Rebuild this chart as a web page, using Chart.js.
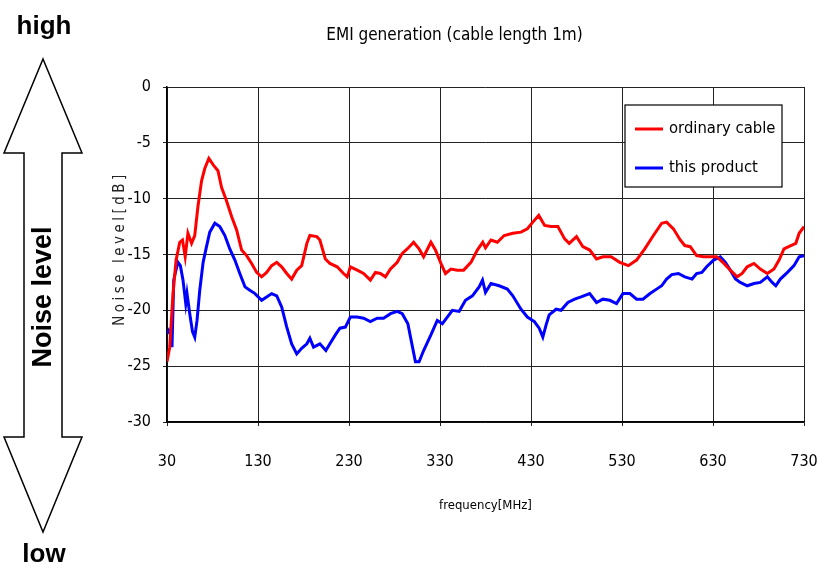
<!DOCTYPE html>
<html>
<head>
<meta charset="utf-8">
<script src="https://cdn.jsdelivr.net/npm/chart.js@4/dist/chart.umd.min.js"></script>
<style>
  html, body { margin: 0; padding: 0; background: #ffffff; }
  #wrap { width: 817px; height: 570px; }
</style>
</head>
<body>
<div id="wrap"><canvas id="c" width="817" height="570"></canvas></div>
<script>
// ---- data ----
const chartTitle = 'EMI generation (cable length 1m)';
const xTitle = 'frequency[MHz]';
const yTitle = 'Noise level[dB]';
const seriesNames = ['ordinary cable', 'this product'];
const xTicks = [30, 130, 230, 330, 430, 530, 630, 730];
const yTicks = [0, -5, -10, -15, -20, -25, -30];

const redFreq = [30,33,36.6,40,44,47,50,53,57,60.5,64,68,71.5,76,81,86,90,95,101,106.5,112,117.5,123,128.5,134,139.5,145,150.6,156,161.6,167,172.6,178,183.7,187,194.7,198,204,209,217,224,228,231.5,239,246,253.5,259,264.5,270,275.6,283,288.5,294,301,307,312,320,325,331,336,342,349,356,364,371,377,380,386,393,400.5,410,419,426,432,438.5,445,452,459.5,467,472,480,487,494.5,502,509,518,527.6,537,546,555,564.5,573.6,579,586.5,594,599,605,612,619.7,627,634,642,649,656.5,662,667.6,675,682,689.7,697,702.6,708,715.5,721,724.7,730];
const redLevel = [-24.6,-23.3,-18.5,-15.5,-13.9,-13.7,-15.2,-13.1,-14.0,-13.3,-10.7,-8.4,-7.3,-6.4,-7.0,-7.5,-9.0,-10.1,-11.6,-12.8,-14.6,-15.1,-15.8,-16.6,-17.0,-16.6,-16.0,-15.7,-16.1,-16.7,-17.2,-16.4,-16.0,-14.0,-13.3,-13.4,-13.7,-15.4,-15.8,-16.1,-16.7,-17.0,-16.1,-16.4,-16.7,-17.3,-16.6,-16.7,-17.0,-16.3,-15.7,-14.9,-14.5,-13.9,-14.5,-15.2,-13.9,-14.6,-15.8,-16.7,-16.3,-16.4,-16.4,-15.7,-14.6,-13.9,-14.4,-13.7,-13.9,-13.3,-13.1,-13.0,-12.7,-12.1,-11.5,-12.4,-12.5,-12.5,-13.6,-14.0,-13.4,-14.3,-14.6,-15.4,-15.2,-15.2,-15.7,-16.0,-15.5,-14.5,-13.3,-12.2,-12.1,-12.7,-13.7,-14.2,-14.3,-15.1,-15.2,-15.2,-15.2,-15.8,-16.4,-17.0,-16.7,-16.1,-15.8,-16.3,-16.7,-16.3,-15.5,-14.5,-14.2,-14.0,-13.1,-12.5];

const blueFreq = [30,32,34,35.5,37.4,39,42,44.7,47.6,50.6,52,55,58,60.5,63,66,69.7,73.4,77,82.6,88,93.6,99,104.6,110,115.7,121,126.7,134,139.5,145,150.6,156,161.6,167,172.6,178,183.7,187,191,198,204.6,209,215,220,226,231.5,239,246,253.5,261,268,275.6,283,288.5,294.7,297.6,303,307,312,320,327,332.6,338,343.6,351,358,365.6,373,376.7,380,386,395,404,410,419,426,433.7,439,443,446.6,450,457.6,463,470.5,478,485,494.5,502,509,516.6,524,531,538.7,546,553,560.8,568,573.6,579,584.7,592,599,607,612,617.8,623,630.7,638,643.6,649,654.7,660,667.6,675,682,689.7,695,699,704,711.8,719,724.7,730];
const blueLevel = [-22.1,-21.8,-22.1,-23.3,-17.3,-16.7,-15.7,-16.0,-17.3,-19.4,-18.5,-20.3,-21.9,-22.4,-20.9,-18.2,-15.7,-14.3,-13.0,-12.2,-12.5,-13.3,-14.5,-15.5,-16.7,-17.9,-18.2,-18.5,-19.1,-18.8,-18.5,-18.7,-19.7,-21.5,-23.0,-23.9,-23.4,-23.0,-22.5,-23.3,-23.0,-23.6,-23.0,-22.2,-21.6,-21.5,-20.6,-20.6,-20.7,-21.0,-20.7,-20.7,-20.3,-20.1,-20.3,-21.2,-22.4,-24.6,-24.6,-23.6,-22.2,-20.9,-21.2,-20.6,-20.0,-20.1,-19.1,-18.7,-17.9,-17.3,-18.4,-17.6,-17.8,-18.1,-18.7,-19.9,-20.6,-21.0,-21.6,-22.4,-21.3,-20.4,-19.9,-20.0,-19.3,-19.0,-18.8,-18.5,-19.3,-19.0,-19.1,-19.4,-18.5,-18.5,-19.0,-19.0,-18.5,-18.1,-17.8,-17.2,-16.8,-16.7,-17.0,-17.2,-16.7,-16.6,-16.1,-15.5,-15.2,-15.7,-16.4,-17.2,-17.5,-17.8,-17.6,-17.5,-17.0,-17.5,-17.8,-17.2,-16.6,-16.0,-15.2,-15.1];

// ---- fonts: prefer a condensed face when one is installed ----
function hasFont(name) {
  const c = document.createElement('canvas').getContext('2d');
  const t = 'mmmmmmmmmmlli1WQ';
  c.font = '40px monospace';
  const a = c.measureText(t).width;
  c.font = "40px '" + name + "', monospace";
  return c.measureText(t).width !== a;
}
const SIZES = {
  'Liberation Sans Narrow': { title: 20, tick: 18, legend: 19, xTitle: 14, yTitle: 16, ls: 5 },
  'DejaVu Sans Condensed': { title: 17, tick: 16, legend: 16.5, xTitle: 13, yTitle: 15, ls: 3.5 },
  'Liberation Sans': { title: 17.5, tick: 16, legend: 16.5, xTitle: 13, yTitle: 14, ls: 4 }
};
const narrowName = ['Liberation Sans Narrow', 'DejaVu Sans Condensed'].find(hasFont) || 'Liberation Sans';
const FONT = "'" + narrowName + "', 'Liberation Sans', Arial, sans-serif";
const SZ = SIZES[narrowName];
const BOLD = "'Liberation Sans', Arial, sans-serif";
const COLORS = ['#ff0000', '#0000ff'];

function pts(fx, fy) { return fx.map((f, i) => ({ x: f, y: fy[i] })); }

// left "high / low" double arrow, y-axis title and the framed legend
const decorPlugin = {
  id: 'decor',
  afterDraw(chart) {
    const ctx = chart.ctx;
    const area = chart.chartArea;
    ctx.save();
    ctx.beginPath();
    ctx.moveTo(43, 59);
    ctx.lineTo(82, 153);
    ctx.lineTo(62, 153);
    ctx.lineTo(62, 437);
    ctx.lineTo(82, 437);
    ctx.lineTo(43, 532);
    ctx.lineTo(4, 437);
    ctx.lineTo(24, 437);
    ctx.lineTo(24, 153);
    ctx.lineTo(4, 153);
    ctx.closePath();
    ctx.fillStyle = '#ffffff';
    ctx.fill();
    ctx.lineWidth = 1.5;
    ctx.strokeStyle = '#000000';
    ctx.stroke();

    ctx.fillStyle = '#000000';
    ctx.textAlign = 'center';
    ctx.textBaseline = 'middle';
    ctx.font = 'bold 26px ' + BOLD;
    ctx.fillText('high', 44, 27);
    ctx.fillText('low', 44, 555);
    ctx.save();
    ctx.translate(44, 297);
    ctx.rotate(-Math.PI / 2);
    ctx.font = 'bold 27px ' + BOLD;
    ctx.fillText('Noise level', 0, 0);
    ctx.restore();

    // y-axis title (letter-spaced, rotated)
    ctx.save();
    ctx.translate(120, (area.top + area.bottom) / 2 - 6);
    ctx.rotate(-Math.PI / 2);
    ctx.font = SZ.yTitle + 'px ' + FONT;
    ctx.letterSpacing = SZ.ls + 'px';
    ctx.fillStyle = '#222222';
    ctx.fillText(yTitle, 0, 0);
    ctx.restore();

    // legend box
    const lx = 625, ly = 105, lw = 157, lh = 82;
    ctx.fillStyle = '#ffffff';
    ctx.fillRect(lx, ly, lw, lh);
    ctx.lineWidth = 1.2;
    ctx.strokeStyle = '#000000';
    ctx.strokeRect(lx, ly, lw, lh);
    chart.data.datasets.forEach((ds, i) => {
      const yy = ly + 24 + i * 39;
      ctx.beginPath();
      ctx.moveTo(lx + 10, yy);
      ctx.lineTo(lx + 38, yy);
      ctx.strokeStyle = ds.borderColor;
      ctx.lineWidth = 3;
      ctx.stroke();
      ctx.fillStyle = '#000000';
      ctx.textAlign = 'left';
      ctx.textBaseline = 'middle';
      ctx.font = SZ.legend + 'px ' + FONT;
      ctx.fillText(ds.label, lx + 44, yy);
    });
    ctx.restore();
  }
};

new Chart(document.getElementById('c'), {
  type: 'line',
  data: {
    datasets: [
      { label: seriesNames[0], data: pts(redFreq, redLevel), borderColor: COLORS[0], backgroundColor: COLORS[0], borderWidth: 3, pointRadius: 0, tension: 0, fill: false },
      { label: seriesNames[1], data: pts(blueFreq, blueLevel), borderColor: COLORS[1], backgroundColor: COLORS[1], borderWidth: 3, pointRadius: 0, tension: 0, fill: false }
    ]
  },
  options: {
    responsive: false,
    animation: false,
    devicePixelRatio: 1,
    layout: { padding: { left: 105, right: 13, top: 0, bottom: 0 } },
    plugins: {
      legend: { display: false },
      tooltip: { enabled: false },
      title: {
        display: true,
        text: chartTitle,
        color: '#000000',
        font: { family: FONT, size: SZ.title, weight: 'normal', lineHeight: 1.2 },
        padding: { top: 36 - SZ.title * 0.6, bottom: 87 - (36 + SZ.title * 0.6) }
      }
    },
    scales: {
      x: {
        type: 'linear',
        min: 30, max: 730,
        afterBuildTicks(s) { s.ticks = xTicks.map(v => ({ value: v })); },
        afterFit(s) { s.height = 148; s.paddingLeft = 0; s.paddingRight = 0; },
        ticks: { color: '#000000', font: { family: FONT, size: SZ.tick }, padding: 26, maxRotation: 0 },
        grid: { color: '#222222', lineWidth: 1, tickLength: 4, drawTicks: true },
        border: { color: '#000000', width: 1.5 },
        title: { display: true, text: xTitle, color: '#000000', font: { family: FONT, size: SZ.xTitle }, padding: { top: 0, bottom: 57 } }
      },
      y: {
        type: 'linear',
        min: -30, max: 0,
        afterBuildTicks(s) { s.ticks = yTicks.map(v => ({ value: v })); },
        afterFit(s) { s.width = 62; s.paddingTop = 0; s.paddingBottom = 0; },
        ticks: { color: '#000000', font: { family: FONT, size: SZ.tick }, padding: 12 },
        grid: { color: '#222222', lineWidth: 1, tickLength: 4, drawTicks: true },
        border: { color: '#000000', width: 1.5 }
      }
    }
  },
  plugins: [decorPlugin]
});
</script>
</body>
</html>
